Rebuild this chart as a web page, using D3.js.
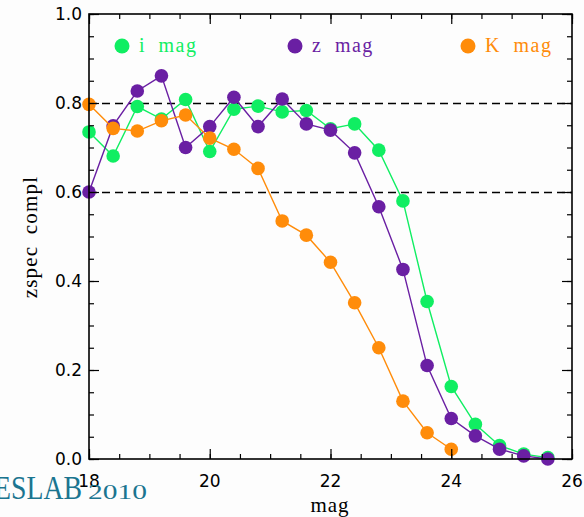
<!DOCTYPE html>
<html>
<head>
<meta charset="utf-8">
<script src="https://cdn.jsdelivr.net/npm/d3@7"></script>
<style>
  html, body { margin: 0; padding: 0; background: #fdfdfd; }
  svg { display: block; }
</style>
</head>
<body>
<svg id="chart" width="584" height="517"></svg>
<script>
// Magnitude bins (shared by every band)
const mags = [18.0, 18.4, 18.8, 19.2, 19.6, 20.0, 20.4, 20.8, 21.2, 21.6,
              22.0, 22.4, 22.8, 23.2, 23.6, 24.0, 24.4, 24.8, 25.2, 25.6];

// Spectroscopic completeness per band
const iMag = [0.735, 0.681, 0.792, 0.764, 0.808, 0.691, 0.786, 0.793, 0.780, 0.783,
              0.742, 0.753, 0.694, 0.580, 0.354, 0.163, 0.078, 0.030, 0.011, 0.003];
const zMag = [0.600, 0.749, 0.827, 0.861, 0.700, 0.747, 0.813, 0.747, 0.809, 0.753,
              0.739, 0.688, 0.567, 0.426, 0.210, 0.091, 0.052, 0.022, 0.007, 0.000];
const kMag = [0.797, 0.743, 0.737, 0.760, 0.773, 0.721, 0.696, 0.653, 0.535, 0.503,
              0.442, 0.351, 0.250, 0.130, 0.059, 0.022];

const seriesNames = ["i mag", "z mag", "K mag"];
const seriesColors = ["#10ee62", "#6a1fa3", "#ff8c0a"];
const seriesValues = [iMag, zMag, kMag];

// Reference levels drawn as dashed lines
const refLevels = [0.8, 0.6];

const xTicks = [18, 20, 22, 24, 26];
const yTicks = [0.0, 0.2, 0.4, 0.6, 0.8, 1.0];

const svg = d3.select("#chart");
const pL = 89, pR = 572, pT = 14, pB = 459;

const x = d3.scaleLinear().domain([18, 26]).range([pL, pR]);
const y = d3.scaleLinear().domain([0, 1]).range([pB, pT]);

// Dashed reference lines
svg.selectAll("line.ref").data(refLevels).join("line")
  .attr("class", "ref")
  .attr("x1", pL).attr("x2", pR)
  .attr("y1", d => y(d) + 0.5).attr("y2", d => y(d) + 0.5)
  .attr("stroke", "#000").attr("stroke-width", 1.3)
  .attr("stroke-dasharray", "8,5");

// Series lines and markers
const line = d3.line().x((d, i) => x(mags[i])).y(d => y(d));
seriesValues.forEach((vals, k) => {
  const g = svg.append("g");
  g.append("path").datum(vals)
    .attr("d", line)
    .attr("fill", "none")
    .attr("stroke", seriesColors[k])
    .attr("stroke-width", 1.4);
  g.selectAll("circle").data(vals).join("circle")
    .attr("cx", (d, i) => x(mags[i]))
    .attr("cy", d => y(d))
    .attr("r", 6.8)
    .attr("fill", seriesColors[k]);
});

// Frame
svg.append("rect")
  .attr("x", pL).attr("y", pT)
  .attr("width", pR - pL).attr("height", pB - pT)
  .attr("fill", "none").attr("stroke", "#000").attr("stroke-width", 1.6);

// Axes with inward ticks
const fmt = d3.format(".1f");
const major = 10, minor = 5;
const yMinorVals = d3.range(0, 1.0001, 0.05);
const xMinorVals = d3.range(18, 26.001, 0.5);
function addAxis(axisFn, scale, vals, size, transform) {
  svg.append("g").attr("transform", transform)
    .call(axisFn(scale).tickValues(vals).tickSize(size).tickFormat(""))
    .call(g => g.select(".domain").remove());
}
addAxis(d3.axisRight, y, yMinorVals, minor, `translate(${pL},0)`);
addAxis(d3.axisRight, y, yTicks, major, `translate(${pL},0)`);
addAxis(d3.axisLeft, y, yMinorVals, minor, `translate(${pR},0)`);
addAxis(d3.axisLeft, y, yTicks, major, `translate(${pR},0)`);
addAxis(d3.axisTop, x, xMinorVals, minor, `translate(0,${pB})`);
addAxis(d3.axisTop, x, xTicks, major, `translate(0,${pB})`);
addAxis(d3.axisBottom, x, xMinorVals, minor, `translate(0,${pT})`);
addAxis(d3.axisBottom, x, xTicks, major, `translate(0,${pT})`);
svg.selectAll(".tick line").attr("stroke", "#000").attr("stroke-width", 1.2);

// Tick labels
svg.append("g").selectAll("text").data(yTicks).join("text")
  .attr("x", pL - 7).attr("y", d => y(d) + 6)
  .attr("text-anchor", "end")
  .attr("font-family", "DejaVu Sans, sans-serif").attr("font-size", 17)
  .attr("fill", "#000")
  .text(d => fmt(d));
svg.append("g").selectAll("text").data(xTicks).join("text")
  .attr("x", d => x(d)).attr("y", 487)
  .attr("text-anchor", "middle")
  .attr("font-family", "DejaVu Sans, sans-serif").attr("font-size", 17)
  .attr("fill", "#000")
  .text(d => d);

// Axis titles
svg.append("text")
  .attr("x", 330).attr("y", 512)
  .attr("text-anchor", "middle")
  .attr("font-family", "Liberation Serif, serif").attr("font-size", 21)
  .attr("letter-spacing", 1)
  .attr("fill", "#000").text("mag");
svg.append("text")
  .attr("transform", `translate(37,237) rotate(-90)`)
  .attr("text-anchor", "middle")
  .attr("font-family", "Liberation Serif, serif").attr("font-size", 21)
  .attr("letter-spacing", 1.2).attr("word-spacing", 5)
  .attr("fill", "#000").text("zspec compl");

// Legend
const legendX = [122, 295, 468];
seriesNames.forEach((name, k) => {
  svg.append("circle").attr("cx", legendX[k]).attr("cy", 46).attr("r", 7.5)
    .attr("fill", seriesColors[k]);
  svg.append("text").attr("x", legendX[k] + 17).attr("y", 52)
    .attr("font-family", "Liberation Serif, serif").attr("font-size", 20)
    .attr("letter-spacing", 1.5).attr("word-spacing", 6)
    .attr("fill", seriesColors[k]).text(name);
});

// Footer mark
svg.append("text").attr("x", -6).attr("y", 499)
  .attr("font-family", "Liberation Serif, serif").attr("font-size", 34)
  .attr("textLength", 88).attr("lengthAdjust", "spacingAndGlyphs")
  .attr("fill", "#1b7590").text("ESLAB");
svg.append("text").attr("x", 88).attr("y", 499)
  .attr("font-family", "Liberation Serif, serif").attr("font-size", 22)
  .attr("textLength", 59).attr("lengthAdjust", "spacingAndGlyphs")
  .attr("fill", "#1b7590").text("2010");
</script>
</body>
</html>
